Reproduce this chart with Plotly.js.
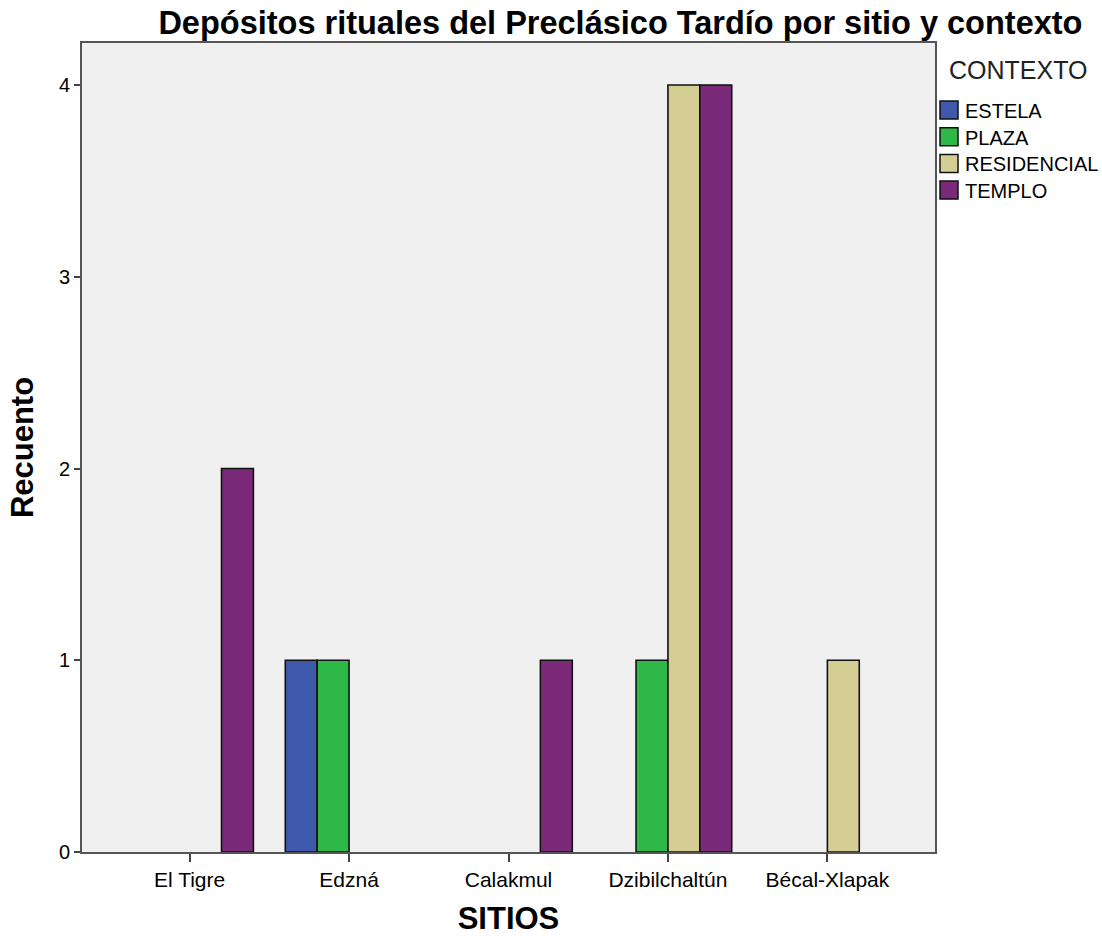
<!DOCTYPE html>
<html>
<head>
<meta charset="utf-8">
<script src="https://cdn.plot.ly/plotly-3.0.1.min.js"></script>
<style>html,body{margin:0;padding:0;background:#fff;}#chart{width:1102px;height:936px;}</style>
</head>
<body>
<div id="chart"></div>
<script>
const sitios = ["El Tigre", "Edzná", "Calakmul", "Dzibilchaltún", "Bécal-Xlapak"];
const contextos = ["ESTELA", "PLAZA", "RESIDENCIAL", "TEMPLO"];
const estela = [0, 1, 0, 0, 0];
const plaza = [0, 1, 0, 1, 0];
const residencial = [0, 0, 0, 4, 1];
const templo = [2, 0, 1, 4, 0];
const yTicks = [0, 1, 2, 3, 4];
const legendTitle = "CONTEXTO";

const series = [estela, plaza, residencial, templo];
const colors = ["#3E58AC", "#2EB848", "#D4CE95", "#7A2A78"];

const traces = contextos.map((name, i) => ({
  type: "bar",
  name: name,
  x: sitios,
  y: series[i],
  marker: {
    color: colors[i],
    line: {color: "#111111", width: series[i].map(v => v > 0 ? 1.6 : 0)}
  },
  showlegend: false,
  hoverinfo: "x+y+name"
}));

// plot area in pixels (for placing the hand-made legend)
const L = 82, R = 935, T = 43, B = 852;
const px2x = p => (p - L) / (R - L);
const py2y = p => (B - p) / (B - T);

const font = "Liberation Sans, Arial, sans-serif";
const shapes = [];
const annotations = [];
annotations.push({
  xref: "paper", yref: "paper", x: px2x(947), y: py2y(70),
  xanchor: "left", yanchor: "middle", showarrow: false,
  text: legendTitle, font: {size: 25, family: font, color: "#222"}
});
const rowStart = 110, rowStep = 26.7;
contextos.forEach((name, i) => {
  const c = rowStart + i * rowStep;
  shapes.push({
    type: "rect", xref: "paper", yref: "paper",
    x0: px2x(940), x1: px2x(958), y0: py2y(c + 9), y1: py2y(c - 9),
    fillcolor: colors[i], line: {color: "#111111", width: 1.5}
  });
  annotations.push({
    xref: "paper", yref: "paper", x: px2x(963), y: py2y(c + 1),
    xanchor: "left", yanchor: "middle", showarrow: false,
    text: name, font: {size: 20, family: font, color: "#000"}
  });
});

const layout = {
  width: 1102,
  height: 936,
  margin: {l: L, r: 1102 - R, t: T, b: 936 - B},
  paper_bgcolor: "#ffffff",
  plot_bgcolor: "#F0F0F0",
  barmode: "group",
  bargap: 0.2,
  bargroupgap: 0,
  font: {family: font, color: "#000"},
  showlegend: false,
  title: {
    text: "Depósitos rituales del Preclásico Tardío por sitio y contexto",
    font: {family: font, size: 32.5, color: "#000", weight: "bold"},
    xref: "container", x: 0.563, xanchor: "center",
    yref: "container", y: 0.976, yanchor: "middle"
  },
  xaxis: {
    type: "category",
    range: [-0.675, 4.675],
    showgrid: false,
    zeroline: false,
    showline: true, linecolor: "#555", linewidth: 2, mirror: true,
    ticks: "outside", ticklen: 8, tickwidth: 2, tickcolor: "#444",
    tickfont: {size: 21, family: font, color: "#000"},
    title: {text: "SITIOS", font: {size: 31, family: font, color: "#000", weight: "bold"}, standoff: 24}
  },
  yaxis: {
    range: [0, 4.219],
    tickvals: yTicks,
    showgrid: false,
    zeroline: false,
    showline: true, linecolor: "#555", linewidth: 2, mirror: true,
    ticks: "outside", ticklen: 6, tickwidth: 2, tickcolor: "#444",
    tickfont: {size: 20, family: font, color: "#000"},
    title: {text: "Recuento", font: {size: 31, family: font, color: "#000", weight: "bold"}, standoff: 16}
  },
  shapes: shapes,
  annotations: annotations
};

Plotly.newPlot("chart", traces, layout, {displayModeBar: false});
</script>
</body>
</html>
